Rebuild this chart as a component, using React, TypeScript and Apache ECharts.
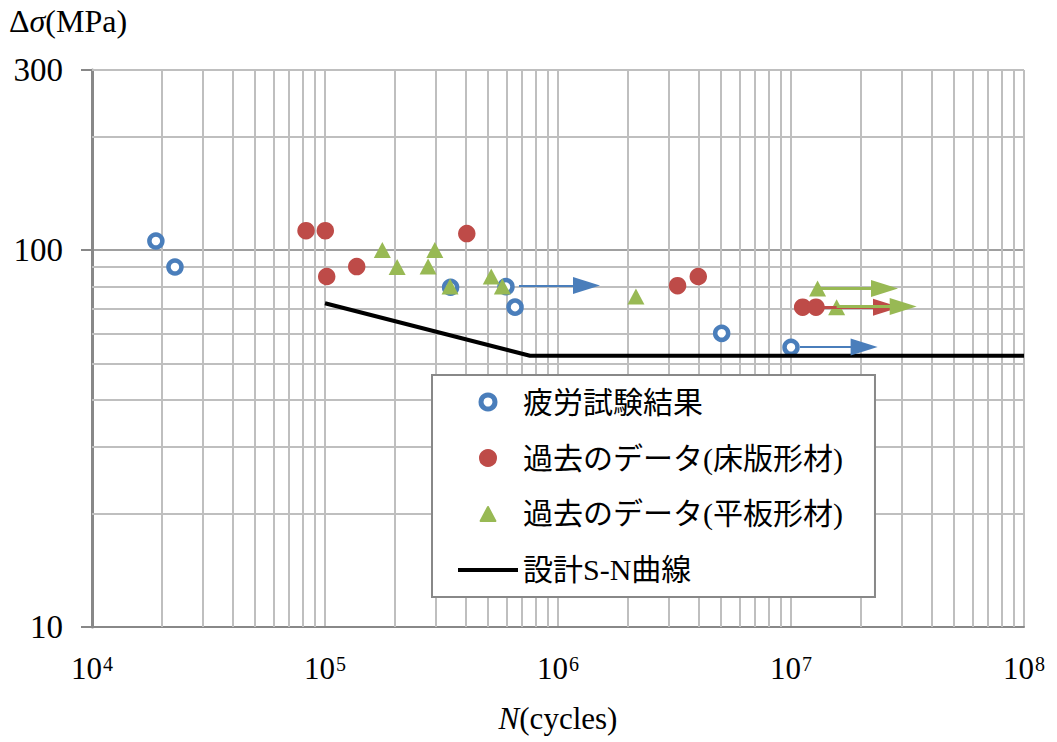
import React, { useEffect, useRef } from 'react';
import * as echarts from 'echarts';

// ---- data ----
const seriesNames = ['疲労試験結果', '過去のデータ(床版形材)', '過去のデータ(平板形材)', '設計S-N曲線'];

const fatigueN = [1.88e4, 2.27e4, 3.46e5, 5.98e5, 6.54e5, 5.04e6, 1.0e7];
const fatigueS = [105.6, 90.1, 79.6, 79.9, 70.5, 60.1, 55.2];

const deckN = [8.29e4, 1.003e5, 1.017e5, 1.368e5, 4.06e5, 3.26e6, 4.0e6, 1.122e7, 1.28e7];
const deckS = [112.5, 112.5, 85.0, 90.3, 110.5, 80.4, 85.0, 70.5, 70.5];

const plateN = [1.762e5, 2.04e5, 2.77e5, 2.96e5, 3.44e5, 5.17e5, 5.77e5, 2.16e6, 1.3e7, 1.57e7];
const plateS = [100, 90.1, 90.3, 100, 80, 85, 80, 75.2, 79, 70.5];

const designN = [1e5, 7.58e5, 1e8];
const designS = [72.2, 52.4, 52.4];

// run-out arrows (start N, end N, stress)
const fatigueArrowFrom = [6.8e5, 1.093e7];
const fatigueArrowTo = [1.325e6, 2.06e7];
const fatigueArrowS = [80.5, 55.3];

const deckArrowFrom = [1.28e7];
const deckArrowTo = [2.57e7];
const deckArrowS = [70.5];

const plateArrowFrom = [1.3e7, 1.57e7];
const plateArrowTo = [2.52e7, 3.03e7];
const plateArrowS = [79, 70.8];

// axis ticks / grid
const xTickExponents = ['4', '5', '6', '7', '8'];
const yTickLabels = [10, 100, 300];
const xMinorGrid = [
  2e4, 3e4, 4e4, 5e4, 6e4, 7e4, 8e4, 9e4,
  2e5, 3e5, 4e5, 5e5, 6e5, 7e5, 8e5, 9e5,
  2e6, 3e6, 4e6, 5e6, 6e6, 7e6, 8e6, 9e6,
  2e7, 3e7, 4e7, 5e7, 6e7, 7e7, 8e7, 9e7,
];
const yMinorGrid = [20, 30, 40, 50, 60, 70, 80, 90, 200, 300];

const BLUE = '#4a7ebb';
const RED = '#be4b48';
const GREEN = '#98b954';
const SERIF = "'Liberation Serif', 'Times New Roman', serif";
const MIXED = "'Liberation Serif', 'Noto Sans CJK JP', sans-serif";
const TRIANGLE_ICON = 'path://M0,17L9,0L18,17Z';
const LINE_ICON = 'path://M0,0H60V4H0Z';

function arrows(from: number[], to: number[], s: number[]) {
  return from.map((f, i) => [
    { coord: [f, s[i]], symbol: 'none' },
    { coord: [to[i], s[i]], symbol: 'triangle', symbolSize: [17, 27] },
  ]);
}

function arrowMarkLine(color: string, width: number, data: any[]) {
  return {
    silent: true,
    symbol: ['none', 'triangle'],
    label: { show: false },
    emphasis: { disabled: true },
    itemStyle: { color, opacity: 1 },
    lineStyle: { color, width, type: 'solid', opacity: 1 },
    data,
  };
}

export default function App() {
  const ref = useRef<HTMLDivElement>(null);

  useEffect(() => {
    if (!ref.current) return;
    const chart = echarts.init(ref.current, null, { renderer: 'svg' });
    const option: any = {
      animation: false,
      backgroundColor: '#fff',
      graphic: [
        {
          type: 'text',
          left: 9,
          top: 5,
          style: {
            text: '{a|Δ}{i|σ}{a|(MPa)}',
            rich: {
              a: { fontFamily: SERIF, fontSize: 32, fill: '#000' },
              i: { fontFamily: SERIF, fontSize: 32, fontStyle: 'italic', fill: '#000' },
            },
          },
        },
      ],
      grid: { left: 92, top: 70, width: 932, height: 557, containLabel: false },
      legend: {
        orient: 'vertical',
        left: 432,
        top: 375,
        data: [
          {
            name: seriesNames[0],
            icon: 'circle',
            itemStyle: { color: '#fff', borderColor: BLUE, borderWidth: 5, opacity: 1 },
          },
          {
            name: seriesNames[1],
            icon: 'circle',
            itemStyle: { color: RED, borderColor: RED, borderWidth: 4, opacity: 1 },
          },
          {
            name: seriesNames[2],
            icon: TRIANGLE_ICON,
            itemStyle: { color: GREEN, borderColor: GREEN, borderWidth: 2, borderJoin: 'round', opacity: 1 },
          },
          { name: seriesNames[3], icon: LINE_ICON, itemStyle: { color: '#000', borderWidth: 0, opacity: 1 } },
        ],
        symbolKeepAspect: true,
        itemWidth: 60,
        itemHeight: 14,
        itemGap: 26,
        padding: [12, 32, 12, 26],
        backgroundColor: '#fff',
        borderColor: '#888',
        borderWidth: 2,
        selectedMode: false,
        textStyle: { fontSize: 30, fontFamily: MIXED, color: '#000' },
      },
      xAxis: {
        type: 'log',
        logBase: 10,
        min: 1e4,
        max: 1e8,
        name: '{i|N}{n|(cycles)}',
        nameLocation: 'middle',
        nameGap: 76,
        nameTextStyle: {
          color: '#000',
          rich: {
            i: { fontFamily: SERIF, fontSize: 31, fontStyle: 'italic', color: '#000' },
            n: { fontFamily: SERIF, fontSize: 31, color: '#000' },
          },
        },
        axisLine: { show: true, lineStyle: { color: '#888', width: 2 } },
        axisTick: { show: false },
        splitLine: { show: true, lineStyle: { color: '#bfbfbf', width: 2 } },
        axisLabel: {
          margin: 25,
          formatter: (v: number) => {
            const idx = Math.round(Math.log10(v)) - 4;
            return `{b|10}{s|${xTickExponents[idx]}}`;
          },
          rich: {
            b: { fontFamily: SERIF, fontSize: 31, color: '#000', lineHeight: 32 },
            s: {
              fontFamily: SERIF,
              fontSize: 20,
              color: '#000',
              verticalAlign: 'top',
              lineHeight: 20,
              padding: [2, 0, 0, 1],
            },
          },
        },
      },
      yAxis: {
        type: 'log',
        logBase: 10,
        min: 10,
        max: 300,
        axisLine: { show: true, lineStyle: { color: '#888', width: 3 } },
        axisTick: { show: true, inside: false, length: 11, lineStyle: { color: '#888', width: 2 } },
        splitLine: { show: true, lineStyle: { color: '#a0a0a0', width: 2 } },
        axisLabel: {
          customValues: yTickLabels,
          margin: 29,
          fontFamily: SERIF,
          fontSize: 33,
          color: '#000',
          formatter: (v: number) => String(Math.round(v)),
        },
      },
      series: [
        {
          name: 'grid',
          type: 'line',
          data: [],
          z: 1,
          markLine: {
            silent: true,
            z: 1,
            symbol: 'none',
            label: { show: false },
            emphasis: { disabled: true },
            lineStyle: { color: '#bfbfbf', width: 2, type: 'solid', opacity: 1 },
            data: [
              ...xMinorGrid.map((v) => ({ xAxis: v })),
              ...yMinorGrid.map((v) => ({ yAxis: v })),
            ],
          },
        },
        {
          name: seriesNames[0],
          type: 'scatter',
          symbol: 'circle',
          symbolSize: 13,
          itemStyle: { color: '#fff', borderColor: BLUE, borderWidth: 4.5, opacity: 1 },
          data: fatigueN.map((n, i) => [n, fatigueS[i]]),
          markLine: arrowMarkLine(BLUE, 2, arrows(fatigueArrowFrom, fatigueArrowTo, fatigueArrowS)),
        },
        {
          name: seriesNames[1],
          type: 'scatter',
          symbol: 'circle',
          symbolSize: 17.5,
          itemStyle: { color: RED, opacity: 1 },
          data: deckN.map((n, i) => [n, deckS[i]]),
          markLine: arrowMarkLine(RED, 3, arrows(deckArrowFrom, deckArrowTo, deckArrowS)),
        },
        {
          name: seriesNames[2],
          type: 'scatter',
          symbol: 'triangle',
          symbolSize: [17, 16],
          itemStyle: { color: GREEN, opacity: 1 },
          data: plateN.map((n, i) => [n, plateS[i]]),
          markLine: arrowMarkLine(GREEN, 3, arrows(plateArrowFrom, plateArrowTo, plateArrowS)),
        },
        {
          name: seriesNames[3],
          type: 'line',
          symbol: 'none',
          showSymbol: false,
          lineStyle: { color: '#000', width: 4 },
          itemStyle: { color: '#000' },
          data: designN.map((n, i) => [n, designS[i]]),
        },
      ],
    };
    chart.setOption(option);
    return () => chart.dispose();
  }, []);

  return (
    <div
      ref={ref}
      style={{ position: 'fixed', left: 0, top: 0, width: 1057, height: 742, background: '#fff' }}
    />
  );
}
